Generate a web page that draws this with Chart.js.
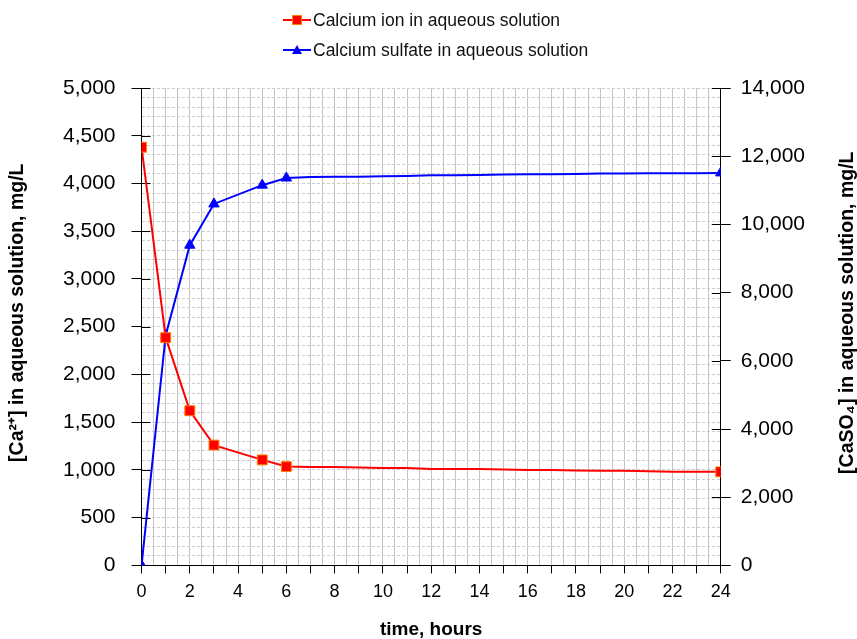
<!DOCTYPE html>
<html lang="en">
<head>
    <meta charset="UTF-8">
    <title>Calcium ion and calcium sulfate vs time</title>
    <script src="https://cdn.jsdelivr.net/npm/chart.js"></script>
    <style>
        body {
            margin: 0;
            background: #ffffff;
            font-family: 'Liberation Sans', Arial, sans-serif;
        }
        .chart-box {
            width: 857px;
            height: 639px;
        }
    </style>
</head>
<body>
    <div class="chart-box">
        <canvas id="chart"></canvas>
    </div>

    <script>
        // time in hours
        const hours = [0, 1, 2, 3, 5, 6, 7, 8, 9, 10, 11, 12, 13, 14, 15, 16, 17, 18, 19, 20, 21, 22, 23, 24];
        // [Ca2+] mg/L (left axis)
        const calciumIon = [4380, 2385, 1620, 1260, 1105, 1035, 1030, 1030, 1025, 1020, 1020, 1010, 1010, 1010, 1005, 1000, 1000, 995, 990, 990, 985, 980, 980, 980];
        // [CaSO4] mg/L (right axis)
        const calciumSulfate = [0, 6750, 9390, 10600, 11150, 11360, 11390, 11400, 11400, 11410, 11420, 11440, 11440, 11450, 11460, 11470, 11470, 11480, 11490, 11490, 11500, 11500, 11500, 11510];
        const markedHours = [0, 1, 2, 3, 5, 6, 24];

        const seriesNames = ["Calcium ion in aqueous solution", "Calcium sulfate in aqueous solution"];
        const leftTitle = "[Ca\u00B2\u207A] in aqueous solution, mg/L";
        const rightTitle = "[CaSO\u2084] in aqueous solution, mg/L";
        const xTitle = "time, hours";

        const FONT = "'Liberation Sans', Arial, sans-serif";
        const fmt = v => v.toLocaleString('en-US');
        const markerRadius = r => ctx => markedHours.includes(hours[ctx.dataIndex]) ? r : 0;

        // legend drawn as two stacked rows, line + marker + text
        const stackedLegend = {
            id: 'stackedLegend',
            afterDraw(chart) {
                const ctx = chart.ctx;
                const rows = [
                    { text: seriesNames[0], color: '#ff0000', y: 20, shape: 'rect' },
                    { text: seriesNames[1], color: '#0000ff', y: 50, shape: 'tri' }
                ];
                ctx.save();
                rows.forEach(r => {
                    ctx.strokeStyle = r.color;
                    ctx.lineWidth = 2;
                    ctx.beginPath();
                    ctx.moveTo(283, r.y);
                    ctx.lineTo(311, r.y);
                    ctx.stroke();
                    ctx.beginPath();
                    if (r.shape === 'rect') {
                        ctx.fillStyle = '#ff0000';
                        ctx.strokeStyle = '#ff8000';
                        ctx.lineWidth = 1;
                        ctx.rect(292.5, r.y - 4.5, 9, 9);
                    } else {
                        ctx.fillStyle = '#0000ff';
                        ctx.moveTo(297, r.y - 5);
                        ctx.lineTo(302, r.y + 4);
                        ctx.lineTo(292, r.y + 4);
                        ctx.closePath();
                    }
                    ctx.fill();
                    if (r.shape === 'rect') ctx.stroke();
                    ctx.fillStyle = '#111';
                    ctx.font = '17.5px ' + FONT;
                    ctx.textBaseline = 'middle';
                    ctx.textAlign = 'left';
                    ctx.fillText(r.text, 313, r.y + 1);
                });
                ctx.restore();
            }
        };

        // tick marks that cross into the plot, and both y titles read bottom-to-top
        const axisExtras = {
            id: 'axisExtras',
            beforeDatasetsDraw(chart) {
                const { ctx, scales } = chart;
                const area = chart.chartArea;
                ctx.save();
                ctx.strokeStyle = '#000';
                ctx.lineWidth = 1;
                ctx.beginPath();
                for (let v = 0; v <= 5000; v += 500) {
                    const y = Math.round(scales.y.getPixelForValue(v)) + 0.5;
                    ctx.moveTo(area.left, y);
                    ctx.lineTo(area.left + 9, y);
                }
                for (let v = 0; v <= 14000; v += 2000) {
                    const y = Math.round(scales.y2.getPixelForValue(v)) + 0.5;
                    ctx.moveTo(area.right - 9, y);
                    ctx.lineTo(area.right, y);
                }
                ctx.stroke();
                ctx.restore();
            },
            afterDraw(chart) {
                const ctx = chart.ctx;
                const area = chart.chartArea;
                const midY = (area.top + area.bottom) / 2 - 14;
                [[leftTitle, 18], [rightTitle, 848]].forEach(([text, x]) => {
                    ctx.save();
                    ctx.translate(x, midY);
                    ctx.rotate(-Math.PI / 2);
                    ctx.fillStyle = '#000';
                    ctx.font = 'bold 19.5px ' + FONT;
                    ctx.textAlign = 'center';
                    ctx.textBaseline = 'middle';
                    ctx.fillText(text, 0, 0);
                    ctx.restore();
                });
            }
        };

        new Chart(document.getElementById('chart'), {
            type: 'line',
            data: {
                labels: hours,
                datasets: [{
                    label: seriesNames[0],
                    data: hours.map((h, i) => ({ x: h, y: calciumIon[i] })),
                    yAxisID: 'y',
                    borderColor: '#ff0000',
                    borderWidth: 2,
                    backgroundColor: '#ff0000',
                    pointStyle: 'rect',
                    pointRadius: markerRadius(7),
                    pointBorderColor: '#ff8000',
                    pointBorderWidth: 1,
                    pointHoverRadius: markerRadius(7),
                    tension: 0
                }, {
                    label: seriesNames[1],
                    data: hours.map((h, i) => ({ x: h, y: calciumSulfate[i] })),
                    yAxisID: 'y2',
                    borderColor: '#0000ff',
                    borderWidth: 2,
                    backgroundColor: '#0000ff',
                    pointStyle: 'triangle',
                    pointRadius: markerRadius(6),
                    pointBorderColor: '#0000ff',
                    pointBorderWidth: 1,
                    pointHoverRadius: markerRadius(6),
                    tension: 0
                }]
            },
            options: {
                responsive: true,
                maintainAspectRatio: false,
                animation: false,
                layout: { padding: { top: 88, left: 47, right: 42, bottom: 0 } },
                plugins: {
                    legend: { display: false },
                    tooltip: { enabled: false }
                },
                scales: {
                    x: {
                        type: 'linear',
                        min: 0,
                        max: 24,
                        border: { color: '#000', width: 1 },
                        grid: {
                            color: '#c4c4c4',
                            tickLength: 8,
                            tickColor: c => c.tick && c.tick.value % 1 === 0 ? '#000' : 'rgba(0,0,0,0)'
                        },
                        ticks: {
                            stepSize: 0.5,
                            autoSkip: false,
                            maxRotation: 0,
                            padding: 8,
                            color: '#000',
                            font: { family: FONT, size: 18 },
                            callback: v => v % 2 === 0 ? v : ''
                        },
                        title: {
                            display: true,
                            text: xTitle,
                            color: '#000',
                            font: { family: FONT, size: 19, weight: 'bold', lineHeight: 1 },
                            padding: { top: 9, bottom: 0 }
                        }
                    },
                    y: {
                        position: 'left',
                        min: 0,
                        max: 5000,
                        border: { color: '#000', width: 1, dash: [3, 2] },
                        grid: {
                            color: '#cccccc',
                            tickLength: 10,
                            tickColor: c => c.tick && c.tick.value % 500 === 0 ? '#000' : 'rgba(0,0,0,0)'
                        },
                        ticks: {
                            stepSize: 100,
                            autoSkip: false,
                            padding: 16,
                            color: '#000',
                            font: { family: FONT, size: 21 },
                            callback: v => v % 500 === 0 ? fmt(v) : ''
                        }
                    },
                    y2: {
                        position: 'right',
                        min: 0,
                        max: 14000,
                        border: { color: '#000', width: 1 },
                        grid: {
                            drawOnChartArea: false,
                            tickLength: 10,
                            tickColor: '#000'
                        },
                        ticks: {
                            stepSize: 2000,
                            padding: 10,
                            color: '#000',
                            font: { family: FONT, size: 21 },
                            callback: v => fmt(v)
                        }
                    }
                }
            },
            plugins: [axisExtras, stackedLegend]
        });
    </script>
</body>
</html>
